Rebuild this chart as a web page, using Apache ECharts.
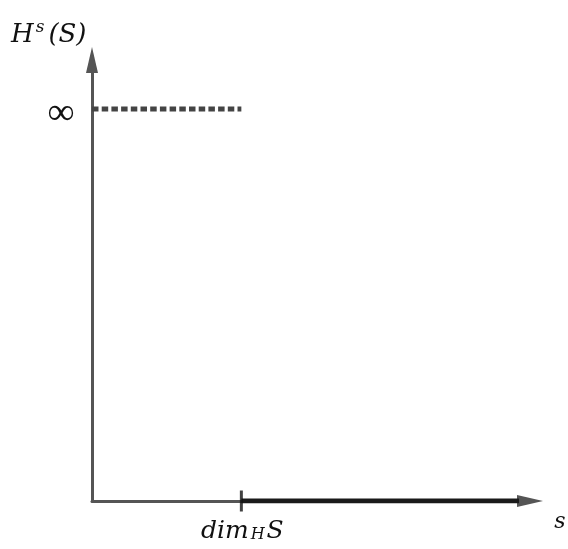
<!DOCTYPE html>
<html>
<head>
<meta charset="utf-8">
<script src="https://cdn.jsdelivr.net/npm/echarts@6/dist/echarts.min.js"></script>
<style>html,body{margin:0;padding:0;background:#fff;}#c{width:568px;height:549px;}</style>
</head>
<body>
<div id="c"></div>
<script>
// Data (abstract units)
var xRange = [0, 10];
var yRange = [0, 10];
var dimH = 3.41;           // position of dim_H S on the s-axis
var infLevel = 8.89;       // height representing infinity
var zeroEnd = 9.75;        // end of the thick H^s(S)=0 segment
var infSegment = [[0, infLevel], [dimH, infLevel]];
var zeroSegment = [[dimH, 0], [zeroEnd, 0]];
var tickPoint = [[dimH, 0]];

var chart = echarts.init(document.getElementById('c'), null, {renderer: 'canvas'});
var serif = '"DejaVu Serif", "Liberation Serif", serif';
var serif2 = '"Liberation Serif", "DejaVu Serif", serif';
var axisCommon = {
  type: 'value',
  axisLine: {show: true, symbol: ['none', 'triangle'], symbolSize: [12, 26],
    lineStyle: {color: '#555', width: 3}},
  axisTick: {show: false}, axisLabel: {show: false}, splitLine: {show: false}
};
chart.setOption({
  animation: false,
  grid: {left: 92, right: 38, top: 60, bottom: 48, containLabel: false},
  xAxis: Object.assign({}, axisCommon, {min: xRange[0], max: xRange[1]}),
  yAxis: Object.assign({}, axisCommon, {min: yRange[0], max: yRange[1]}),
  series: [
    {type: 'line', data: infSegment, symbol: 'none',
      lineStyle: {color: '#444', width: 5, type: [6.5, 3.2]}},
    {type: 'line', data: zeroSegment, symbol: 'none',
      lineStyle: {color: '#1a1a1a', width: 5}},
    {type: 'scatter', data: tickPoint, symbol: 'rect', symbolSize: [3, 21],
      itemStyle: {color: '#111'}, z: 5}
  ]
});
function px(p){ return chart.convertToPixel({gridIndex: 0}, p); }
var pInf = px([0, infLevel]);
var pDim = px([dimH, 0]);
var pEnd = px([xRange[1], 0]);
chart.setOption({
  graphic: [
    {type: 'text', x: 11, y: 35, style: {
      text: '{i|H}{sup|s}{i|(S)}', verticalAlign: 'middle',
      rich: {
        i: {fontFamily: serif, fontStyle: 'italic', fontSize: 26, fill: '#111'},
        sup: {fontFamily: serif, fontStyle: 'italic', fontSize: 17, fill: '#111', padding: [0, 4, 14, 2]}
      }}},
    {type: 'text', x: pInf[0] - 31, y: pInf[1] + 5, style: {
      text: '∞', fontFamily: serif2, fontSize: 38, fill: '#111', align: 'center', verticalAlign: 'middle'}},
    {type: 'text', x: pDim[0] + 1, y: pDim[1] + 30, style: {
      text: '{i|dim}{sub|H}{i|S}', align: 'center', verticalAlign: 'middle',
      rich: {
        i: {fontFamily: serif, fontStyle: 'italic', fontSize: 25, fill: '#111'},
        sub: {fontFamily: serif, fontStyle: 'italic', fontSize: 16, fill: '#111', padding: [8, 2, 0, 2]}
      }}},
    {type: 'text', x: pEnd[0] + 30, y: pEnd[1] + 21, style: {
      text: 's', fontFamily: serif, fontStyle: 'italic', fontSize: 22, fill: '#111', align: 'center', verticalAlign: 'middle'}}
  ]
});
</script>
</body>
</html>
